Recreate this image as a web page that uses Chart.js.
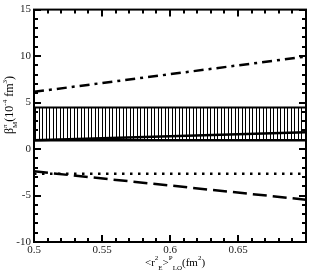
<!DOCTYPE html>
<html>
<head>
<meta charset="utf-8">
<script src="https://cdn.jsdelivr.net/npm/chart.js@4.4.0/dist/chart.umd.min.js"></script>
<style>
  html, body { margin: 0; padding: 0; background: #fff; }
  #wrap { width: 309px; height: 271px; }
</style>
</head>
<body>
<div id="wrap"><canvas id="chart"></canvas></div>
<script>
// x range endpoints of the lines
var xs = [0.5, 0.7];
var dashDot = [6.15, 9.95];
var solidLine = [0.95, 1.8];
var dotted = [-2.65, -2.65];
var dashed = [-2.4, -5.45];
var bandTop = [4.48, 4.48];
var bandBottom = [0.95, 0.95];

var xTicks = [0.5, 0.55, 0.6, 0.65];
var yTicks = [-10, -5, 0, 5, 10, 15];

function pts(ys) {
    return xs.map(function (x, i) { return { x: x, y: ys[i] }; });
}

// vertical hatch pattern for the band
var pc = document.createElement('canvas');
pc.width = 7; pc.height = 4;
var pctx = pc.getContext('2d');
pctx.fillStyle = '#fff';
pctx.fillRect(0, 0, 7, 4);
pctx.fillStyle = '#000';
pctx.fillRect(0, 0, 1, 4);
pctx.fillRect(4, 0, 1, 4);
var hatch = pctx.createPattern(pc, 'repeat');

var serif = "'Liberation Serif', 'DejaVu Serif', serif";

// frame, inward ticks and axis titles
var framePlugin = {
    id: 'frame',
    afterDraw: function (chart) {
        var c = chart.ctx, a = chart.chartArea;
        var xs_ = chart.scales.x, ys_ = chart.scales.y;
        c.save();
        c.setLineDash([]);
        c.strokeStyle = '#000';
        c.lineWidth = 2;
        c.strokeRect(a.left, a.top, a.right - a.left, a.bottom - a.top);
        c.beginPath();
        var v, p, len;
        for (v = 50; v <= 70; v++) {
            p = Math.round(xs_.getPixelForValue(v / 100));
            len = (v % 5 === 0) ? 7 : 4;
            c.moveTo(p, a.bottom); c.lineTo(p, a.bottom - len);
            c.moveTo(p, a.top); c.lineTo(p, a.top + len);
        }
        for (v = -10; v <= 15; v++) {
            p = Math.round(ys_.getPixelForValue(v));
            len = (v % 5 === 0) ? 7 : 4;
            c.moveTo(a.left, p); c.lineTo(a.left + len, p);
            c.moveTo(a.right, p); c.lineTo(a.right - len, p);
        }
        c.stroke();

        c.fillStyle = '#000';
        c.textBaseline = 'alphabetic';
        // x title: <r^2_E>^P_LO(fm^2)
        var parts = [
            ['<r', 11, 0], ['2', 7, -6], ['E', 7, 4], ['>', 11, 0],
            ['P', 7, -6], ['LO', 7, 4], ['(fm', 11, 0], ['2', 7, -6], [')', 11, 0]
        ];
        drawRich(c, parts, 175, 266);
        // y title: beta^pi_M(10^-4 fm^3)
        var yparts = [
            ['\u03b2', 12, 0], ['\u03c0', 7, -6, true], ['M', 7, 4], ['(10', 12, 0],
            ['-4', 7, -6], [' fm', 12, 0], ['3', 7, -6], [')', 12, 0]
        ];
        c.save();
        c.translate(13, 105);
        c.rotate(-Math.PI / 2);
        drawRich(c, yparts, 0, 0);
        c.restore();
        c.restore();
    }
};

// parts: [text, size, dy, overlapNext]
function drawRich(c, parts, cx, y) {
    var w = 0, widths = [];
    parts.forEach(function (p) {
        c.font = p[1] + 'px ' + serif;
        var tw = c.measureText(p[0]).width;
        widths.push(tw);
        if (!p[3]) w += tw;
    });
    var x = cx - w / 2;
    parts.forEach(function (p, i) {
        c.font = p[1] + 'px ' + serif;
        c.fillText(p[0], x, y + p[2]);
        if (!p[3]) x += widths[i];
    });
}

var ctx = document.getElementById('chart').getContext('2d');
var chart = new Chart(ctx, {
    type: 'line',
    data: {
        datasets: [
            { data: pts(bandBottom), borderColor: '#000', borderWidth: 2.5, pointRadius: 0, fill: false },
            { data: pts(bandTop), borderColor: '#000', borderWidth: 2, pointRadius: 0, fill: '-1', backgroundColor: hatch },
            { data: pts(solidLine), borderColor: '#000', borderWidth: 2.5, pointRadius: 0, fill: false },
            { data: pts(dashDot), borderColor: '#000', borderWidth: 2.5, pointRadius: 0, fill: false, borderDash: [10, 5, 3, 5] },
            { data: pts(dotted), borderColor: '#000', borderWidth: 2.5, pointRadius: 0, fill: false, borderDash: [2.5, 5.5] },
            { data: pts(dashed), borderColor: '#000', borderWidth: 2.5, pointRadius: 0, fill: false, borderDash: [14, 6] }
        ]
    },
    options: {
        responsive: true,
        maintainAspectRatio: false,
        animation: false,
        layout: { padding: { top: 4, right: 3, left: 0, bottom: 0 } },
        plugins: {
            legend: { display: false },
            tooltip: { enabled: false },
            filler: { drawTime: 'beforeDatasetsDraw' }
        },
        scales: {
            x: {
                type: 'linear', min: 0.5, max: 0.7,
                grid: { display: false, drawTicks: false }, border: { display: false },
                afterBuildTicks: function (s) { s.ticks = xTicks.map(function (v) { return { value: v }; }); },
                afterFit: function (s) { s.height = 29; },
                ticks: { color: '#222', padding: 2, maxRotation: 0, autoSkip: false,
                    font: { family: serif, size: 11 },
                    callback: function (v) { return String(v); } }
            },
            y: {
                min: -10, max: 15,
                grid: { display: false, drawTicks: false }, border: { display: false },
                afterBuildTicks: function (s) { s.ticks = yTicks.map(function (v) { return { value: v }; }); },
                afterFit: function (s) { s.width = 34; },
                ticks: { color: '#222', padding: 3,
                    font: { family: serif, size: 11 } }
            }
        }
    },
    plugins: [framePlugin]
});
</script>
</body>
</html>
